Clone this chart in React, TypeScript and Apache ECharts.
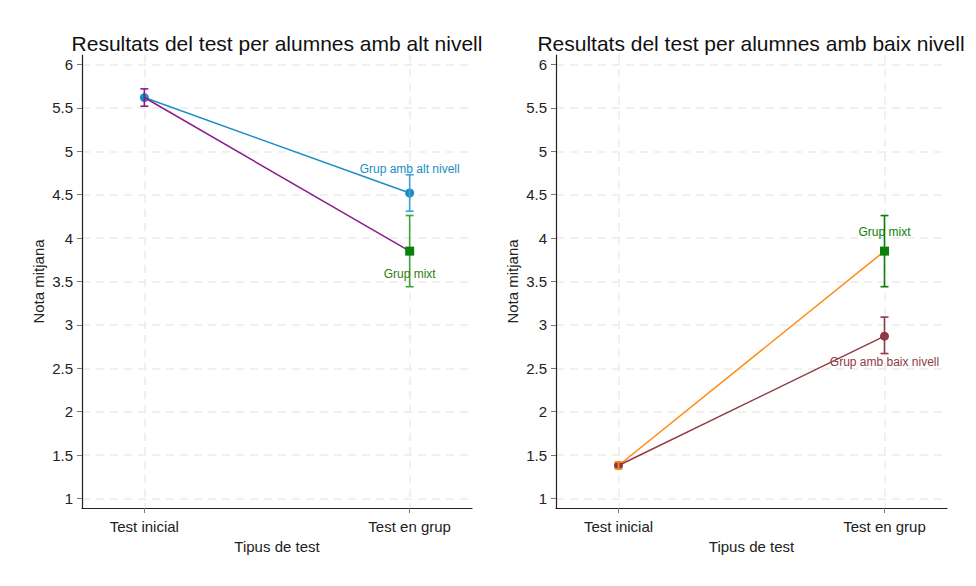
import React, { useEffect, useRef } from "react";
import * as echarts from "echarts";

const categories = ["Test inicial", "Test en grup"];
const yTicks = [1, 1.5, 2, 2.5, 3, 3.5, 4, 4.5, 5, 5.5, 6];

// Left panel: high-level students
const altNivellMeans = [5.62, 4.52];
const altNivellCI = [[5.52, 5.72], [4.31, 4.73]];
const mixtAltMeans = [5.62, 3.85];
const mixtAltCI = [[5.52, 5.72], [3.44, 4.26]];

// Right panel: low-level students
const baixNivellMeans = [1.38, 2.87];
const baixNivellCI = [[1.34, 1.42], [2.67, 3.09]];
const mixtBaixMeans = [1.38, 3.85];
const mixtBaixCI = [[1.34, 1.42], [3.44, 4.26]];

const titles = [
  "Resultats del test per alumnes amb alt nivell",
  "Resultats del test per alumnes amb baix nivell",
];
const labelAlt = "Grup amb alt nivell";
const labelMixt = "Grup mixt";
const labelBaix = "Grup amb baix nivell";

const FONT = "Liberation Sans, Arial, sans-serif";
const BLUE = "#1a8dc4";
const BLUE_CI = "#3da3d6";
const PURPLE = "#8c1c8c";
const GREEN = "#0a7f0a";
const GREEN_CI = "#3fa33f";
const ORANGE = "#ff8a10";
const MAROON = "#8f3a44";

function errorSeries(idx: number, color: string, data: number[][], z: number) {
  return {
    type: "custom",
    xAxisIndex: idx,
    yAxisIndex: idx,
    z,
    silent: true,
    data,
    renderItem: (params: any, api: any) => {
      const x = api.value(0);
      const lo = api.coord([x, api.value(1)]);
      const hi = api.coord([x, api.value(2)]);
      const hw = 4;
      const st = { stroke: color, lineWidth: 1.6 };
      return {
        type: "group",
        children: [
          { type: "line", shape: { x1: lo[0], y1: lo[1], x2: hi[0], y2: hi[1] }, style: st },
          { type: "line", shape: { x1: lo[0] - hw, y1: lo[1], x2: lo[0] + hw, y2: lo[1] }, style: st },
          { type: "line", shape: { x1: hi[0] - hw, y1: hi[1], x2: hi[0] + hw, y2: hi[1] }, style: st },
        ],
      };
    },
  };
}

function ciPoint(i: number, ci: number[][]) {
  return [i, ci[i][0], ci[i][1]];
}

export default function App() {
  const ref = useRef<HTMLDivElement>(null);
  useEffect(() => {
    document.body.style.margin = "0";
    const chart = echarts.init(ref.current!, null, { renderer: "svg" });
    const xAxisBase = (gridIndex: number) => ({
      type: "value",
      gridIndex,
      min: -0.235,
      max: 1.235,
      name: "Tipus de test",
      nameLocation: "middle",
      nameGap: 31,
      nameTextStyle: { fontFamily: FONT, fontSize: 15, color: "#222" },
      axisLine: { show: true, onZero: false, lineStyle: { color: "#222", width: 1.2 } },
      axisTick: { show: true, customValues: [0, 1], length: 5, lineStyle: { color: "#777" } },
      axisLabel: {
        customValues: [0, 1],
        formatter: (v: number) => categories[Math.round(v)],
        fontFamily: FONT,
        fontSize: 15,
        color: "#222",
        margin: 11,
      },
      splitLine: { show: true, lineStyle: { color: "#ebebeb", type: [8, 6], width: 1.5 } },
    });
    const yAxisBase = (gridIndex: number) => ({
      type: "value",
      gridIndex,
      min: 0.89,
      max: 6.11,
      name: "Nota mitjana",
      nameLocation: "middle",
      nameGap: 36,
      nameTextStyle: { fontFamily: FONT, fontSize: 15, color: "#222" },
      axisLine: { show: true, onZero: false, lineStyle: { color: "#222", width: 1.2 } },
      axisTick: { show: true, customValues: yTicks, length: 5, lineStyle: { color: "#777" } },
      axisLabel: { customValues: yTicks, fontFamily: FONT, fontSize: 15, color: "#222", margin: 9 },
      splitLine: { show: true, lineStyle: { color: "#ebebeb", type: [8, 6], width: 1.5 } },
    });
    const lineSeries = (idx: number, means: number[], color: string, z: number) => ({
      type: "line",
      xAxisIndex: idx,
      yAxisIndex: idx,
      z,
      data: means.map((m, i) => [i, m]),
      showSymbol: false,
      symbol: "none",
      lineStyle: { color, width: 1.5 },
      silent: true,
    });
    const markerSeries = (
      idx: number,
      pts: number[][],
      symbol: string,
      size: number,
      color: string,
      z: number,
      label?: { text: string; color: string; dy: number }
    ) => ({
      type: "scatter",
      xAxisIndex: idx,
      yAxisIndex: idx,
      z,
      symbol,
      symbolSize: size,
      itemStyle: { color, opacity: 1 },
      data: pts,
      silent: true,
      label: label
        ? {
            show: true,
            position: "inside",
            offset: [0, label.dy],
            formatter: () => label.text,
            fontFamily: FONT,
            fontSize: 12,
            color: label.color,
          }
        : { show: false },
    });

    chart.setOption({
      animation: false,
      title: [
        { text: titles[0], left: 272, top: 28, textAlign: "center", textStyle: { fontFamily: FONT, fontSize: 21, fontWeight: "normal", color: "#111" } },
        { text: titles[1], left: 746, top: 28, textAlign: "center", textStyle: { fontFamily: FONT, fontSize: 21, fontWeight: "normal", color: "#111" } },
      ],
      grid: [
        { left: 82, right: 504, top: 55, bottom: 78 },
        { left: 556, right: 29, top: 55, bottom: 78 },
      ],
      xAxis: [xAxisBase(0), xAxisBase(1)],
      yAxis: [yAxisBase(0), yAxisBase(1)],
      series: [
        // Left panel
        lineSeries(0, altNivellMeans, BLUE, 2),
        markerSeries(0, altNivellMeans.map((m, i) => [i, m]), "circle", 9, BLUE, 3),
        lineSeries(0, mixtAltMeans, PURPLE, 4),
        errorSeries(0, PURPLE, [ciPoint(0, mixtAltCI)], 5),
        errorSeries(0, BLUE_CI, [ciPoint(1, altNivellCI)], 5),
        errorSeries(0, GREEN_CI, [ciPoint(1, mixtAltCI)], 5),
        markerSeries(0, [[1, mixtAltMeans[1]]], "rect", 9, GREEN, 6, { text: labelMixt, color: "#2f7d10", dy: 23 }),
        markerSeries(0, [[1, altNivellMeans[1]]], "circle", 0, BLUE, 6, { text: labelAlt, color: BLUE, dy: -24 }),
        // Right panel
        lineSeries(1, mixtBaixMeans, ORANGE, 2),
        lineSeries(1, baixNivellMeans, MAROON, 3),
        markerSeries(1, baixNivellMeans.map((m, i) => [i, m]), "circle", 9, MAROON, 4),
        errorSeries(1, ORANGE, [ciPoint(0, mixtBaixCI)], 5),
        errorSeries(1, MAROON, [ciPoint(1, baixNivellCI)], 5),
        errorSeries(1, GREEN, [ciPoint(1, mixtBaixCI)], 5),
        markerSeries(1, [[1, mixtBaixMeans[1]]], "rect", 9, GREEN, 6, { text: labelMixt, color: GREEN, dy: -19 }),
        markerSeries(1, [[1, baixNivellMeans[1]]], "circle", 0, MAROON, 6, { text: labelBaix, color: MAROON, dy: 26 }),
      ],
    });
    return () => chart.dispose();
  }, []);
  return <div ref={ref} style={{ width: 976, height: 586 }} />;
}
